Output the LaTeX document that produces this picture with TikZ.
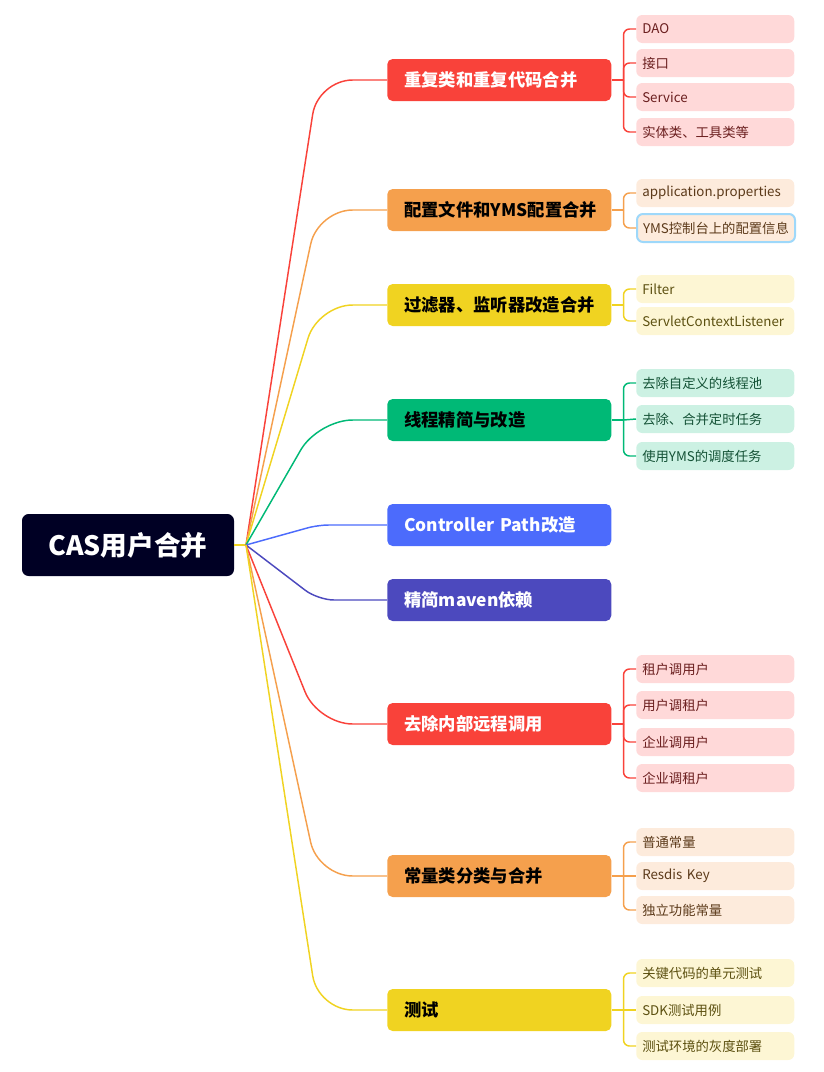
\documentclass[tikz,border=0pt]{standalone}
\usepackage{fontspec}
\setmainfont{Noto Sans CJK SC}
\usetikzlibrary{calc}
\definecolor{wurzel}{HTML}{000024}
\definecolor{rot}{HTML}{F9423A}
\definecolor{orange}{HTML}{F5A04D}
\definecolor{gelb}{HTML}{F0D321}
\definecolor{gruen}{HTML}{00B976}
\definecolor{blau}{HTML}{4C6BFC}
\definecolor{lila}{HTML}{4C49BE}
\definecolor{rotHell}{HTML}{FFD9D9}
\definecolor{orangeHell}{HTML}{FDEBDC}
\definecolor{gelbHell}{HTML}{FDF6D4}
\definecolor{gruenHell}{HTML}{CCF1E3}
\definecolor{rotText}{HTML}{6B1F1F}
\definecolor{orangeText}{HTML}{5C3A1A}
\definecolor{gelbText}{HTML}{5C5010}
\definecolor{gruenText}{HTML}{145236}
\definecolor{auswahl}{HTML}{9ED8FA}
\begin{document}
\begin{tikzpicture}[x=0.75pt,y=-0.75pt,
		ast/.style={rounded corners=4pt,text width=142.5pt,inner xsep=12.75pt,inner ysep=0pt,minimum height=31.5pt,align=left,anchor=west,font=\fontsize{13}{15}\selectfont\bfseries},
		blatt/.style={rounded corners=4.5pt,text width=109.5pt,inner xsep=4.5pt,inner ysep=0pt,minimum height=21pt,align=left,anchor=west,font=\fontsize{10}{12}\selectfont},
		linie/.style={line width=1.1pt}]
				\useasboundingbox (0,0) rectangle (824,1072);
				% Zentrum
				\node[fill=wurzel,rounded corners=5pt,minimum width=159pt,minimum height=46.5pt,text=white,font=\fontsize{20}{24}\selectfont\bfseries] (cas) at (128,545) {CAS用户合并};
				\coordinate (hub) at (246,545);
				% Äste
				\node[ast,fill=rot,text=white] (dup) at (387,80) {重复类和重复代码合并};
				\node[ast,fill=orange,text=black] (conf) at (387,210) {配置文件和YMS配置合并};
				\node[ast,fill=gelb,text=black] (filt) at (387,305) {过滤器、监听器改造合并};
				\node[ast,fill=gruen,text=black] (thr) at (387,420) {线程精简与改造};
				\node[ast,fill=blau,text=white] (ctrl) at (387,525) {Controller Path改造};
				\node[ast,fill=lila,text=white] (mvn) at (387,600) {精简maven依赖};
				\node[ast,fill=rot,text=white] (rpc) at (387,724) {去除内部远程调用};
				\node[ast,fill=orange,text=black] (const) at (387,876) {常量类分类与合并};
				\node[ast,fill=gelb,text=black] (test) at (387,1010) {测试};
				% Blätter
				\node[blatt,fill=rotHell,text=rotText] (dao) at (636,29) {DAO};
				\node[blatt,fill=rotHell,text=rotText] (api) at (636,63) {接口};
				\node[blatt,fill=rotHell,text=rotText] (svc) at (636,97) {Service};
				\node[blatt,fill=rotHell,text=rotText] (ent) at (636,132) {实体类、工具类等};
				\node[blatt,fill=orangeHell,text=orangeText] (prop) at (636,193) {application.properties};
				\node[blatt,fill=orangeHell,text=orangeText,draw=auswahl,line width=1.5pt] (yms) at (636,228) {YMS控制台上的配置信息};
				\node[blatt,fill=gelbHell,text=gelbText] (fil) at (636,289) {Filter};
				\node[blatt,fill=gelbHell,text=gelbText] (lis) at (636,321) {ServletContextListener};
				\node[blatt,fill=gruenHell,text=gruenText] (pool) at (636,383) {去除自定义的线程池};
				\node[blatt,fill=gruenHell,text=gruenText] (job) at (636,419) {去除、合并定时任务};
				\node[blatt,fill=gruenHell,text=gruenText] (sched) at (636,456) {使用YMS的调度任务};
				\node[blatt,fill=rotHell,text=rotText] (tu) at (636,669) {租户调用户};
				\node[blatt,fill=rotHell,text=rotText] (ut) at (636,705) {用户调租户};
				\node[blatt,fill=rotHell,text=rotText] (eu) at (636,742) {企业调用户};
				\node[blatt,fill=rotHell,text=rotText] (et) at (636,778) {企业调租户};
				\node[blatt,fill=orangeHell,text=orangeText] (norm) at (636,842) {普通常量};
				\node[blatt,fill=orangeHell,text=orangeText] (key) at (636,876) {Resdis Key};
				\node[blatt,fill=orangeHell,text=orangeText] (func) at (636,910) {独立功能常量};
				\node[blatt,fill=gelbHell,text=gelbText] (unit) at (636,973) {关键代码的单元测试};
				\node[blatt,fill=gelbHell,text=gelbText] (sdk) at (636,1010) {SDK测试用例};
				\node[blatt,fill=gelbHell,text=gelbText] (gray) at (636,1046) {测试环境的灰度部署};
				% Verbindungen vom Zentrum
				\draw[linie,gelb] (cas.east) -- (hub);
				\begin{scope}[linie,rounded corners=26pt]
					\draw[rot] (hub) -- ($(dup.west)+(-69,0)$) -- (dup.west);
					\draw[orange] (hub) -- ($(conf.west)+(-69,0)$) -- (conf.west);
					\draw[gelb] (hub) -- ($(filt.west)+(-69,0)$) -- (filt.west);
					\draw[gruen] (hub) -- ($(thr.west)+(-69,0)$) -- (thr.west);
					\draw[blau,rounded corners=8pt] (hub) -- ($(ctrl.west)+(-69,0)$) -- (ctrl.west);
					\draw[lila,rounded corners=12pt] (hub) -- ($(mvn.west)+(-69,0)$) -- (mvn.west);
					\draw[rot] (hub) -- ($(rpc.west)+(-69,0)$) -- (rpc.west);
					\draw[orange] (hub) -- ($(const.west)+(-69,0)$) -- (const.west);
					\draw[gelb] (hub) -- ($(test.west)+(-69,0)$) -- (test.west);
				\end{scope}
				% Klammern zu den Blättern
				\begin{scope}[linie,rounded corners=4.5pt]
					\draw[rot] (dup.east) -- ++(12,0) coordinate (kdup);
					\draw[rot] (kdup) |- (dao.west);
					\draw[rot] (kdup) |- (api.west);
					\draw[rot] (kdup) |- (svc.west);
					\draw[rot] (kdup) |- (ent.west);
					\draw[orange] (conf.east) -- ++(12,0) coordinate (kconf);
					\draw[orange] (kconf) |- (prop.west);
					\draw[orange] (kconf) |- (yms.west);
					\draw[gelb] (filt.east) -- ++(12,0) coordinate (kfilt);
					\draw[gelb] (kfilt) |- (fil.west);
					\draw[gelb] (kfilt) |- (lis.west);
					\draw[gruen] (thr.east) -- ++(12,0) coordinate (kthr);
					\draw[gruen] (kthr) |- (pool.west);
					\draw[gruen] (kthr) -- (job.west);
					\draw[gruen] (kthr) |- (sched.west);
					\draw[rot] (rpc.east) -- ++(12,0) coordinate (krpc);
					\draw[rot] (krpc) |- (tu.west);
					\draw[rot] (krpc) |- (ut.west);
					\draw[rot] (krpc) |- (eu.west);
					\draw[rot] (krpc) |- (et.west);
					\draw[orange] (const.east) -- ++(12,0) coordinate (kconst);
					\draw[orange] (kconst) |- (norm.west);
					\draw[orange] (kconst) -- (key.west);
					\draw[orange] (kconst) |- (func.west);
					\draw[gelb] (test.east) -- ++(12,0) coordinate (ktest);
					\draw[gelb] (ktest) |- (unit.west);
					\draw[gelb] (ktest) -- (sdk.west);
					\draw[gelb] (ktest) |- (gray.west);
				\end{scope}
			\end{tikzpicture}
\end{document}
